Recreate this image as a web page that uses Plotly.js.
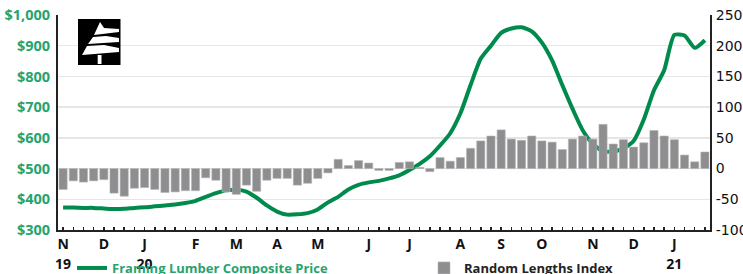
<!DOCTYPE html>
<html>
<head>
<meta charset="utf-8">
<script src="https://cdn.plot.ly/plotly-3.0.1.min.js"></script>
<style>
html,body{margin:0;padding:0;background:#fff;}
#chart{width:743px;height:274px;}
</style>
</head>
<body>
<div id="chart"></div>
<script>
// Weekly dates (Fridays)
const weeks = [
 '2019-11-08','2019-11-15','2019-11-22','2019-11-29','2019-12-06','2019-12-13','2019-12-20','2019-12-27',
 '2020-01-03','2020-01-10','2020-01-17','2020-01-24','2020-01-31','2020-02-07','2020-02-14','2020-02-21',
 '2020-02-28','2020-03-06','2020-03-13','2020-03-20','2020-03-27','2020-04-03','2020-04-10','2020-04-17',
 '2020-04-24','2020-05-01','2020-05-08','2020-05-15','2020-05-22','2020-05-29','2020-06-05','2020-06-12',
 '2020-06-19','2020-06-26','2020-07-03','2020-07-10','2020-07-17','2020-07-24','2020-07-31','2020-08-07',
 '2020-08-14','2020-08-21','2020-08-28','2020-09-04','2020-09-11','2020-09-18','2020-09-25','2020-10-02',
 '2020-10-09','2020-10-16','2020-10-23','2020-10-30','2020-11-06','2020-11-13','2020-11-20','2020-11-27',
 '2020-12-04','2020-12-11','2020-12-18','2020-12-25','2021-01-01','2021-01-08','2021-01-15','2021-01-22'
];
// Framing Lumber Composite Price ($, left axis)
const compositePrice = [
 373,373,372,372,370,368,369,372,
 374,377,380,383,388,395,408,420,
 429,431,425,405,380,360,350,351,
 355,367,390,408,432,447,455,460,
 468,478,495,515,540,575,615,680,
 772,858,900,942,956,960,947,910,
 852,772,695,625,580,556,556,565,
 590,660,755,820,935,933,893,918
];
// Random Lengths Index (right axis)
const randomLengthsIndex = [
 -34,-20,-22,-20,-18,-40,-45,-32,
 -31,-34,-39,-38,-36,-36,-15,-19,
 -38,-42,-27,-37,-19,-16,-16,-27,
 -24,-16,-7,15,5,13,9,-3,
 -3,10,11,2,-5,18,12,18,
 33,45,53,63,48,46,53,45,
 43,31,48,53,48,72,40,47,
 35,42,62,53,47,22,11,27
];
// Month tick labels
const tickDates = ['2019-11-08','2019-12-06','2020-01-03','2020-02-07','2020-03-06','2020-04-03','2020-05-01',
 '2020-06-05','2020-07-03','2020-08-07','2020-09-04','2020-10-02','2020-11-06','2020-12-04','2021-01-01'];
const tickLabels = ['N','D','J','F','M','A','M','J','J','A','S','O','N','D','J'];
const yearDates = ['2019-11-08','2020-01-03','2021-01-01'];
const yearLabels = ['19','20','21'];
const leftTicks = [300,400,500,600,700,800,900,1000];
const leftTickText = ['$300','$400','$500','$600','$700','$800','$900','$1,000'];
const rightTicks = [-100,-50,0,50,100,150,200,250];
const rightTickText = ['-100','-50','0','50','100','150','200','250'];

const GREEN = '#008a4b';
const LABELGREEN = '#27a36c';
const DAY = 86400000;

// pixel -> paper helpers for logo
const L = 58, R = 710, T = 15, B = 230;
const px = x => (x - L) / (R - L);
const py = y => (B - y) / (B - T);
function poly(pts){
  return 'M' + pts.map(p => px(p[0]).toFixed(4) + ',' + py(p[1]).toFixed(4)).join(' L') + ' Z';
}

const legendFont = {family:'Open Sans, sans-serif', size:13, color:'#222', weight:700};
const xFont = {family:'Open Sans, sans-serif', size:14, color:'#111', weight:700};
const xRange = ['2019-11-04 12:00','2021-01-25 12:00'];

const traces = [
 {
  type:'bar', x: weeks, y: randomLengthsIndex, yaxis:'y2', legend:'legend2',
  name:'Random Lengths Index',
  marker:{color:'#8e8e90', line:{color:'#b5b5b7', width:0.6}},
  width: 5.6*DAY,
  hoverinfo:'skip'
 },
 {
  type:'scatter', mode:'lines', x: weeks, y: compositePrice, yaxis:'y', legend:'legend',
  name:'<span style="color:'+LABELGREEN+'">Framing Lumber Composite Price</span>',
  line:{color:GREEN, width:4, shape:'spline', smoothing:0.6},
  hoverinfo:'skip'
 },
 {
  // invisible carrier for the year-label axis
  type:'scatter', mode:'none', x: yearDates, y:[0,0,0], xaxis:'x2', yaxis:'y',
  showlegend:false, hoverinfo:'skip'
 }
];

const layout = {
 width:743, height:274,
 margin:{l:L, r:743-R, t:T, b:274-B, pad:0},
 paper_bgcolor:'#fff', plot_bgcolor:'#fff',
 showlegend:true,
 legend:{orientation:'h', xref:'container', yref:'container', x:72/743, xanchor:'left',
   y:(274-253)/274, yanchor:'top', font:legendFont, bgcolor:'rgba(0,0,0,0)', itemwidth:30},
 legend2:{orientation:'h', xref:'container', yref:'container', x:424/743, xanchor:'left',
   y:(274-253)/274, yanchor:'top', font:legendFont, bgcolor:'rgba(0,0,0,0)'},
 xaxis:{
   type:'date', range:xRange,
   tickmode:'array', tickvals:tickDates, ticktext:tickLabels,
   ticks:'inside', ticklen:3, tickcolor:'#222', tickwidth:1.5,
   minor:{ticks:'inside', ticklen:3, tickcolor:'#222', tickwidth:1.5, dtick:7*DAY, tick0:'2019-11-08', showgrid:false},
   tickfont:xFont,
   showline:true, linecolor:'#222', linewidth:2, showgrid:false, zeroline:false, fixedrange:true,
   automargin:false
 },
 xaxis2:{
   type:'date', range:xRange, overlaying:'x', side:'bottom', anchor:'y',
   tickmode:'array', tickvals:yearDates, ticktext:yearLabels,
   ticks:'', tickfont:xFont, ticklabelstandoff:24,
   showline:false, showgrid:false, zeroline:false, automargin:false
 },
 yaxis:{
   range:[300,1000], tickmode:'array', tickvals:leftTicks, ticktext:leftTickText,
   tickfont:{family:'Open Sans, sans-serif', size:14.5, color:LABELGREEN, weight:700},
   showline:true, linecolor:'#222', linewidth:2, ticks:'',
   showgrid:true, gridcolor:'#e6e6e6', gridwidth:1.5, zeroline:false, ticklabelstandoff:3,
   automargin:false
 },
 yaxis2:{
   overlaying:'y', side:'right', range:[-100,250], tickmode:'array', tickvals:rightTicks, ticktext:rightTickText,
   tickfont:{family:'DejaVu Sans, Verdana, sans-serif', size:14, color:'#111'},
   showline:true, linecolor:'#222', linewidth:2, ticks:'', showgrid:false, zeroline:false,
   ticklabelstandoff:1, automargin:false
 },
 shapes:[
   {type:'rect', xref:'paper', yref:'paper', x0:px(78), x1:px(120.5), y0:py(65), y1:py(19),
    fillcolor:'#000', line:{width:0}, layer:'above'},
   {type:'path', xref:'paper', yref:'paper', path:poly([[100,22],[104,28],[119,29],[119,32],[94,35]]),
    fillcolor:'#fff', line:{width:0}, layer:'above'},
   {type:'path', xref:'paper', yref:'paper', path:poly([[93,37],[106,36],[119,38],[119,42],[88,44]]),
    fillcolor:'#fff', line:{width:0}, layer:'above'},
   {type:'path', xref:'paper', yref:'paper', path:poly([[87,46],[104,45],[119,48],[119,52],[82,55]]),
    fillcolor:'#fff', line:{width:0}, layer:'above'},
   {type:'rect', xref:'paper', yref:'paper', x0:px(97.7), x1:px(101.5), y0:py(64), y1:py(55),
    fillcolor:'#fff', line:{width:0}, layer:'above'}
 ]
};

Plotly.newPlot('chart', traces, layout, {displayModeBar:false, staticPlot:true});
</script>
</body>
</html>
